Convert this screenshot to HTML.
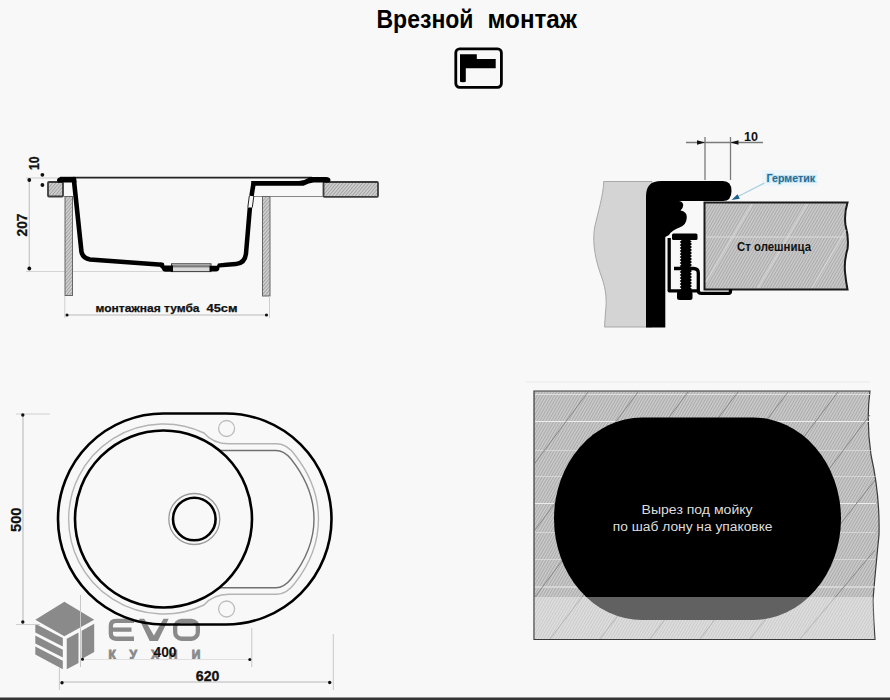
<!DOCTYPE html>
<html><head><meta charset="utf-8">
<style>
html,body{margin:0;padding:0;background:#f8f8f8;}
body{width:890px;height:700px;overflow:hidden;position:relative;}
svg{position:absolute;left:0;top:0;display:block;}
text{font-family:"Liberation Sans",sans-serif;}
</style></head><body>
<svg width="890" height="700" viewBox="0 0 890 700">
<defs>
  <pattern id="hatch" patternUnits="userSpaceOnUse" width="3" height="3" patternTransform="rotate(45)">
    <rect width="3" height="3" fill="#c4c4c4"/>
    <rect width="1.2" height="3" fill="#a8a8a8"/>
  </pattern>
  <pattern id="hatchS" patternUnits="userSpaceOnUse" width="2.5" height="2.5" patternTransform="rotate(40)">
    <rect width="2.5" height="2.5" fill="#d2d2d2"/>
    <rect width="1" height="2.5" fill="#a0a0a0"/>
  </pattern>
  <pattern id="hatch2" patternUnits="userSpaceOnUse" width="2.5" height="2.5" patternTransform="rotate(30)">
    <rect width="2.5" height="2.5" fill="#cbcbcb"/>
    <rect width="1" height="2.5" fill="#a9a9a9"/>
  </pattern>
</defs>
<rect width="890" height="700" fill="#f8f8f8"/>

<!-- ===== TITLE ===== -->
<text x="376.5" y="28" font-size="25" font-weight="bold" fill="#000" textLength="97" lengthAdjust="spacingAndGlyphs">Врезной</text>
<text x="487.5" y="28" font-size="25" font-weight="bold" fill="#000" textLength="89.5" lengthAdjust="spacingAndGlyphs">монтаж</text>
<rect x="455.8" y="48.9" width="45.6" height="38.4" rx="3.8" fill="none" stroke="#000" stroke-width="2.8"/>
<path d="M460,54.2 H476.8 V58.9 H495.7 V68.3 H465.8 V81.5 Q465.8,82.3 463,82.3 Q460,82.3 460,81.5 Z" fill="#000"/>

<!-- ===== SIDE PROFILE ===== -->
<g id="side">
  <!-- extension lines -->
  <line x1="26" y1="178" x2="58" y2="178" stroke="#ccc" stroke-width="1"/>
  <line x1="26" y1="271.5" x2="165" y2="271.5" stroke="#d4d4d4" stroke-width="1"/>
  <!-- 207 dim -->
  <line x1="29.3" y1="180" x2="29.3" y2="268.5" stroke="#c4c4c4" stroke-width="1.2"/>
  <circle cx="29.3" cy="180" r="1.9" fill="#111"/>
  <circle cx="29.3" cy="268.5" r="1.9" fill="#111"/>
  <text transform="translate(27.1,225) rotate(-90)" x="-11.4" y="0" font-size="14.8" font-weight="bold" fill="#111" stroke="#111" stroke-width="0.3" textLength="22.8" lengthAdjust="spacingAndGlyphs">207</text>
  <!-- 10 dim -->
  <circle cx="42.4" cy="174.8" r="1.9" fill="#111"/>
  <circle cx="42.4" cy="185" r="1.9" fill="#111"/>
  <text transform="translate(39.3,163.2) rotate(-90)" x="-6.8" y="0" font-size="15" font-weight="bold" fill="#111" stroke="#111" stroke-width="0.3" textLength="13.6" lengthAdjust="spacingAndGlyphs">10</text>

  <!-- countertop blocks -->
  <rect x="48" y="182" width="15" height="14.5" fill="url(#hatchS)" stroke="#3c3c3c" stroke-width="1.8" rx="1"/>
  <rect x="323.5" y="182" width="54.5" height="14.8" fill="url(#hatchS)" stroke="#3c3c3c" stroke-width="1.8" rx="1"/>
  <!-- gap lines -->
  <line x1="63" y1="196.5" x2="72" y2="196.5" stroke="#888" stroke-width="1"/>
  <line x1="254" y1="196.5" x2="323" y2="196.5" stroke="#888" stroke-width="1"/>
  <!-- posts -->
  <rect x="65" y="196.5" width="7.5" height="99" fill="url(#hatchS)" stroke="#666" stroke-width="1"/>
  <rect x="262.5" y="196.5" width="7.5" height="99.5" fill="url(#hatchS)" stroke="#666" stroke-width="1"/>
  <!-- rim thin line -->
  <line x1="60" y1="177.6" x2="312" y2="177.6" stroke="#222" stroke-width="1.8"/>
  <!-- sink profile thick -->
  <path d="M59.5,182.6 Q57,182.6 57,180 Q57.5,177 62,177 H76 L76.5,182.6 Z" fill="#000"/>
  <path d="M73.8,179 L81.5,252 Q83,258.5 90,259.5 L162,264.8" fill="none" stroke="#000" stroke-width="4.6" stroke-linejoin="round" stroke-linecap="round"/>
  <rect x="171.5" y="263.8" width="39.5" height="7.8" fill="#d8d8d8" stroke="#3a3a3a" stroke-width="1"/>
  <rect x="172" y="265.2" width="38.5" height="2.2" fill="#7a7a7a"/>
  <path d="M160,262.6 Q163,262.8 164.5,265.5 L173,265.5 V271.8 H165.5 Q162.5,271.8 162,269 L160,267 Z" fill="#000"/>
  <path d="M209.5,265.7 H217 L218,263.5 Q226,262.3 236,261.7 Q243,261 243.8,253 L247.6,207.5 H252.2 L248.2,254 Q247,265.5 236,266.3 L219.5,267.5 Q219.5,271.6 216,271.6 H209.5 Z" fill="#000"/>
  <path d="M251.5,196 L253.5,183.5" fill="none" stroke="#000" stroke-width="4.6" stroke-linejoin="round" stroke-linecap="butt"/>
  <path d="M251.2,181 H299 Q305,180.5 310.5,177.1 H326 Q330.5,177.3 330.5,180.3 Q330.3,182.6 327,182.6 H313.5 Q309,183 303.5,185.7 H251.2 Z" fill="#000"/>
  
  <path d="M247.8,207.5 L249.3,196" fill="none" stroke="#222" stroke-width="1"/>
  <path d="M252.3,207.5 L253.8,196" fill="none" stroke="#222" stroke-width="1"/>
  <!-- bottom dim -->
  <line x1="66" y1="315" x2="266" y2="315" stroke="#bbb" stroke-width="1"/>
  <circle cx="67" cy="315" r="1.6" fill="#111"/>
  <circle cx="266.5" cy="315" r="1.6" fill="#111"/>
  <line x1="64.8" y1="296" x2="64.8" y2="318" stroke="#cfcfcf" stroke-width="1"/>
  <line x1="269.5" y1="296" x2="269.5" y2="318" stroke="#cfcfcf" stroke-width="1"/>
  <text x="95.5" y="311.5" font-size="11.2" font-weight="bold" fill="#111" stroke="#111" stroke-width="0.25" textLength="104" lengthAdjust="spacingAndGlyphs">монтажная тумба</text>
  <text x="206.5" y="311.5" font-size="11.2" font-weight="bold" fill="#111" stroke="#111" stroke-width="0.25" textLength="31" lengthAdjust="spacingAndGlyphs">45см</text>
</g>

<!-- ===== CROSS SECTION DETAIL ===== -->
<g id="detail">
  <!-- gray panel -->
  <path d="M603.7,181.5 H652 V327 H604.5 L605.5,312 C607,300 606,290 602,278 C596,262 592,245 594.5,228 C598,212 603.5,195 603.7,181.5 Z" fill="#d4d4d4" stroke="#a8a8a8" stroke-width="1"/>
  <!-- countertop -->
  <path d="M704.5,202.5 H847.5 Q844,214 845.5,225 Q849,238 847.5,249 Q844,261 845,272 Q846,282 847.5,289.5 H704.5 Z" fill="url(#hatch2)" stroke="#1a1a1a" stroke-width="2"/>
  <line x1="706" y1="237" x2="846" y2="237" stroke="#e2e2e2" stroke-width="0.8"/>
  <g stroke="#dadada" stroke-width="1">
    <line x1="706" y1="282" x2="752" y2="204"/>
    <line x1="758" y1="288" x2="807" y2="204"/>
    <line x1="812" y1="288" x2="846" y2="230"/>
  </g>
  <text x="737" y="250.5" font-size="12.5" font-weight="bold" fill="#111" textLength="74" lengthAdjust="spacingAndGlyphs" style="white-space:pre">Ст олешница</text>
  <!-- black L profile -->
  <path d="M646,327.5 V196 Q646,181 661,181 H723 Q731.5,181 731.5,191 Q731.5,201 723,201 H679 Q683.5,202 683.2,205.5 Q683,208.5 680.5,210.5 Q687,211.5 686.8,217.5 Q686.5,225 679.5,227.5 Q672,230 669,235 L665.3,237 V327.5 Z" fill="#000"/>
  <!-- clamp bracket -->
  <path d="M669.2,238 V290.8 H698.3 V273 Q698.3,268.5 693.5,268.5 H674" fill="none" stroke="#000" stroke-width="3.3" stroke-linejoin="round"/>
  <path d="M698.3,290.8 Q698.3,293.4 701.5,293.4 H728.5 Q730.5,293.4 730.5,291 V289" fill="none" stroke="#000" stroke-width="3.3" stroke-linejoin="round"/>
  <!-- bolt -->
  <path d="M681.5,234.5 H690.5 V241 L692,241.0 L690.3,242.5 L692,244.0 L690.3,245.5 L692,247.0 L690.3,248.5 L692,250.0 L690.3,251.5 L692,253.0 L690.3,254.5 L692,256.0 L690.3,257.5 L692,259.0 L690.3,260.5 L692,262.0 L690.3,263.5 L692,265.0 L690.3,266.5 L692,268.0 L690.3,269.5 L692,271.0 L690.3,272.5 L692,274.0 L690.3,275.5 L692,277.0 L690.3,278.5 L692,280.0 L690.3,281.5 L692,283.0 L690.3,284.5 L692,286.0 L690.3,287.5 L692,289.0 L690.3,290.5 V300 H681.5 L679.7,290.0 L681.4,288.5 L679.7,287.0 L681.4,285.5 L679.7,284.0 L681.4,282.5 L679.7,281.0 L681.4,279.5 L679.7,278.0 L681.4,276.5 L679.7,275.0 L681.4,273.5 L679.7,272.0 L681.4,270.5 L679.7,269.0 L681.4,267.5 L679.7,266.0 L681.4,264.5 L679.7,263.0 L681.4,261.5 L679.7,260.0 L681.4,258.5 L679.7,257.0 L681.4,255.5 L679.7,254.0 L681.4,252.5 L679.7,251.0 L681.4,249.5 L679.7,248.0 L681.4,246.5 L679.7,245.0 L681.4,243.5 L679.7,242.0 L681.4,240.5 Z" fill="#000"/>
  <rect x="672" y="233.5" width="25.5" height="6.5" rx="1.5" fill="#000"/>
  <rect x="677" y="291" width="15.5" height="9" rx="2.5" fill="#000"/>
  <!-- dimension 10 -->
  <g stroke="#7a7a7a" stroke-width="1.3">
    <line x1="705" y1="137" x2="705" y2="180"/>
    <line x1="730.5" y1="137" x2="730.5" y2="180"/>
    <line x1="686" y1="142.5" x2="763" y2="142.5"/>
  </g>
  <path d="M697,140.2 L705,142.5 L697,144.8 Z" fill="#111"/>
  <path d="M738.5,140.2 L730.5,142.5 L738.5,144.8 Z" fill="#111"/>
  <text x="744" y="141" font-size="12" font-weight="bold" fill="#111" textLength="14" lengthAdjust="spacingAndGlyphs">10</text>
  <!-- germetik -->
  <rect x="762" y="170" width="56" height="16" fill="#eaf5fa" opacity="0.8"/>
  <text x="766.5" y="182.3" font-size="11" font-weight="bold" fill="#256d96" stroke="#c4e2f0" stroke-width="2" paint-order="stroke" textLength="48.5" lengthAdjust="spacingAndGlyphs">Герметик</text>
  <line x1="764.5" y1="183" x2="737" y2="197" stroke="#a9cfe2" stroke-width="1.2"/>
  <path d="M731.5,200 L737.5,194.3 L739.8,198.8 Z" fill="#1d5f88"/>
</g>

<!-- ===== TOP VIEW ===== -->
<g id="top">
  <!-- EVO logo -->
  <g fill="#8a8a8a">
    <path d="M64.4,601.8 L94.2,619.8 L64.4,636.3 L35.3,619.8 Z"/>
    <path d="M35.3,623.8 L62.8,637.9 V646.5 L35.3,632.4 Z"/>
    <path d="M35.3,635.5 L62.8,649.7 V657.5 L35.3,643.4 Z"/>
    <path d="M35.3,646.5 L62.8,660.7 V669.3 L35.3,654.4 Z"/>
    <path d="M66.75,638.7 L78.5,632.4 V663 L66.75,669.3 Z"/>
    <path d="M81.7,630.8 L94.2,623.8 V652 L81.7,659.1 Z"/>
    <path d="M139,618.7 H144.2 L153.9,635.6 L163.5,618.7 H168.7 L157.9,641 H149.7 Z"/>
  </g>
  <g fill="none" stroke="#8a8a8a" stroke-width="4.3">
    <path d="M134,620.85 H116 Q110.85,620.85 110.85,626 V633.6 Q110.85,638.75 116,638.75 H134"/>
    <path d="M112,629.6 H131.5"/>
    <rect x="175.15" y="620.85" width="22.7" height="17.9" rx="6.5"/>
  </g>
  <g font-size="12" font-weight="bold" fill="#8a8a8a" stroke="#8a8a8a" stroke-width="0.9">
    <text x="108.5" y="658.8">К</text>
    <text x="129.5" y="658.8">У</text>
    <text x="151" y="658.8">Х</text>
    <text x="168.8" y="658.8">Н</text>
    <text x="191.8" y="658.8">И</text>
  </g>
  <!-- outer stadium -->
  <path d="M163.5,413.5 H226 A105.5,105.5 0 0 1 226,624.5 H163.5 A105.5,105.5 0 0 1 163.5,413.5 Z" fill="none" stroke="#000" stroke-width="2.6"/>
  <!-- light inner line -->
  <path d="M204,433 Q213,443.8 229,443.8 H277 Q287,444 295,455 Q318.5,485 318.5,519 Q318.5,553 295,583 Q287,594 277,594.2 H229 Q213,594.2 204,605 A95,95 0 1 1 204,433 Z" fill="none" stroke="#b4b4b4" stroke-width="1.4"/>
  <!-- darker drainer inner line -->
  <path d="M219.5,450.5 H276 Q284,450.5 291,459 Q314,488 314,519 Q314,550 291,579 Q284,587.7 276,587.7 H219.5" fill="none" stroke="#707070" stroke-width="1.4"/>
  <!-- bowl -->
  <circle cx="163.5" cy="519" r="88.5" fill="none" stroke="#000" stroke-width="2.6"/>
  <!-- drain -->
  <circle cx="194.3" cy="519" r="25.5" fill="none" stroke="#9a9a9a" stroke-width="1.3"/>
  <circle cx="194.3" cy="519" r="21.3" fill="none" stroke="#000" stroke-width="2.6"/>
  <!-- tap holes -->
  <circle cx="226.6" cy="428.5" r="8" fill="none" stroke="#bdbdbd" stroke-width="1.3"/>
  <circle cx="226.6" cy="609" r="8" fill="none" stroke="#bdbdbd" stroke-width="1.3"/>
  <!-- 500 dim -->
  <line x1="16" y1="414" x2="50" y2="414" stroke="#d0d0d0" stroke-width="1"/>
  <line x1="16" y1="624.5" x2="40" y2="624.5" stroke="#d0d0d0" stroke-width="1"/>
  <line x1="23" y1="415" x2="23" y2="622" stroke="#c4c4c4" stroke-width="1.3"/>
  <circle cx="22.8" cy="415" r="1.7" fill="#111"/>
  <circle cx="22.8" cy="622" r="1.7" fill="#111"/>
  <text transform="translate(21,519.8) rotate(-90)" x="-12.2" y="0" font-size="15.5" font-weight="bold" fill="#111" stroke="#111" stroke-width="0.2" textLength="24.4" lengthAdjust="spacingAndGlyphs">500</text>
  <!-- 400 dim -->
  <line x1="80.5" y1="595" x2="80.5" y2="667" stroke="#c8c8c8" stroke-width="1"/>
  <line x1="251.8" y1="628" x2="251.8" y2="667" stroke="#c8c8c8" stroke-width="1"/>
  <line x1="82.5" y1="659.5" x2="250" y2="659.5" stroke="#e0e0e0" stroke-width="1"/>
  <circle cx="82.5" cy="659.3" r="1.5" fill="#111"/>
  <circle cx="249.8" cy="659.5" r="1.5" fill="#111"/>
  <!-- 620 dim -->
  <line x1="59.4" y1="668" x2="59.4" y2="690" stroke="#c8c8c8" stroke-width="1"/>
  <line x1="333.3" y1="634" x2="333.3" y2="690" stroke="#c8c8c8" stroke-width="1"/>
  <line x1="62" y1="682" x2="330" y2="682" stroke="#cdcdcd" stroke-width="1.6"/>
  <circle cx="62" cy="682.7" r="1.7" fill="#111"/>
  <circle cx="329.7" cy="682.5" r="1.7" fill="#111"/>
  <text x="195.8" y="680.5" font-size="14.5" font-weight="bold" fill="#111" stroke="#111" stroke-width="0.3" textLength="23.6" lengthAdjust="spacingAndGlyphs">620</text>
  <text x="153.5" y="656.7" font-size="14.5" font-weight="bold" fill="#111" textLength="23" lengthAdjust="spacingAndGlyphs">400</text>
</g>

<!-- ===== CUTOUT ===== -->
<g id="cut">
  <path d="M534,391 H870 Q866,420 871,455 Q880,495 879,535 Q875,575 873,600 Q873.5,620 875,639.5 H534 Z" fill="url(#hatch2)" stroke="#3a3a3a" stroke-width="1.2"/>
  <g stroke="#ededed" stroke-width="1">
    <line x1="535" y1="394.5" x2="870" y2="394.5" opacity="0.7"/>
    <line x1="535" y1="421.5" x2="870" y2="421.5"/>
    <line x1="535" y1="450.5" x2="874" y2="450.5" opacity="0.5"/>
    <line x1="535" y1="476.5" x2="876" y2="476.5" opacity="0.5"/>
    <line x1="535" y1="503.5" x2="876" y2="503.5"/>
    <line x1="535" y1="532.5" x2="875" y2="532.5" opacity="0.5"/>
    <line x1="535" y1="559.5" x2="875" y2="559.5" opacity="0.5"/>
    <line x1="535" y1="587" x2="875" y2="587"/>
  </g>
  <g stroke="#808080" stroke-width="0.9">
    <line x1="588" y1="392" x2="535" y2="463"/>
    <line x1="638" y1="392" x2="535" y2="530"/>
    <line x1="688" y1="392" x2="535" y2="597"/>
    <line x1="738" y1="392" x2="550" y2="639"/>
    <line x1="788" y1="392" x2="600" y2="639"/>
    <line x1="838" y1="392" x2="650" y2="639"/>
    <line x1="870" y1="415" x2="700" y2="639"/>
    <line x1="875" y1="480" x2="750" y2="639"/>
    <line x1="875" y1="550" x2="800" y2="639"/>
  </g>
  <rect x="554" y="417.5" width="287" height="202.5" rx="88" ry="101.25" fill="#000"/>
  <path d="M534.6,597 H873.2 Q873.5,620 874.4,639 H534.6 Z" fill="#ffffff" opacity="0.38"/>
  <text x="641.6" y="513.9" font-size="12.5" fill="#dedede" textLength="111" lengthAdjust="spacingAndGlyphs">Вырез под мойку</text>
  <text x="612.8" y="530.6" font-size="12.5" fill="#dedede" textLength="159.7" lengthAdjust="spacingAndGlyphs" style="white-space:pre">по шаб лону на упаковке</text>
</g>

<!-- bottom bar -->
<rect x="0" y="697.5" width="890" height="2.5" fill="#353535"/>
<line x1="526" y1="382" x2="870" y2="382" stroke="#e8e8e8" stroke-width="1"/>
</svg>
</body></html>
